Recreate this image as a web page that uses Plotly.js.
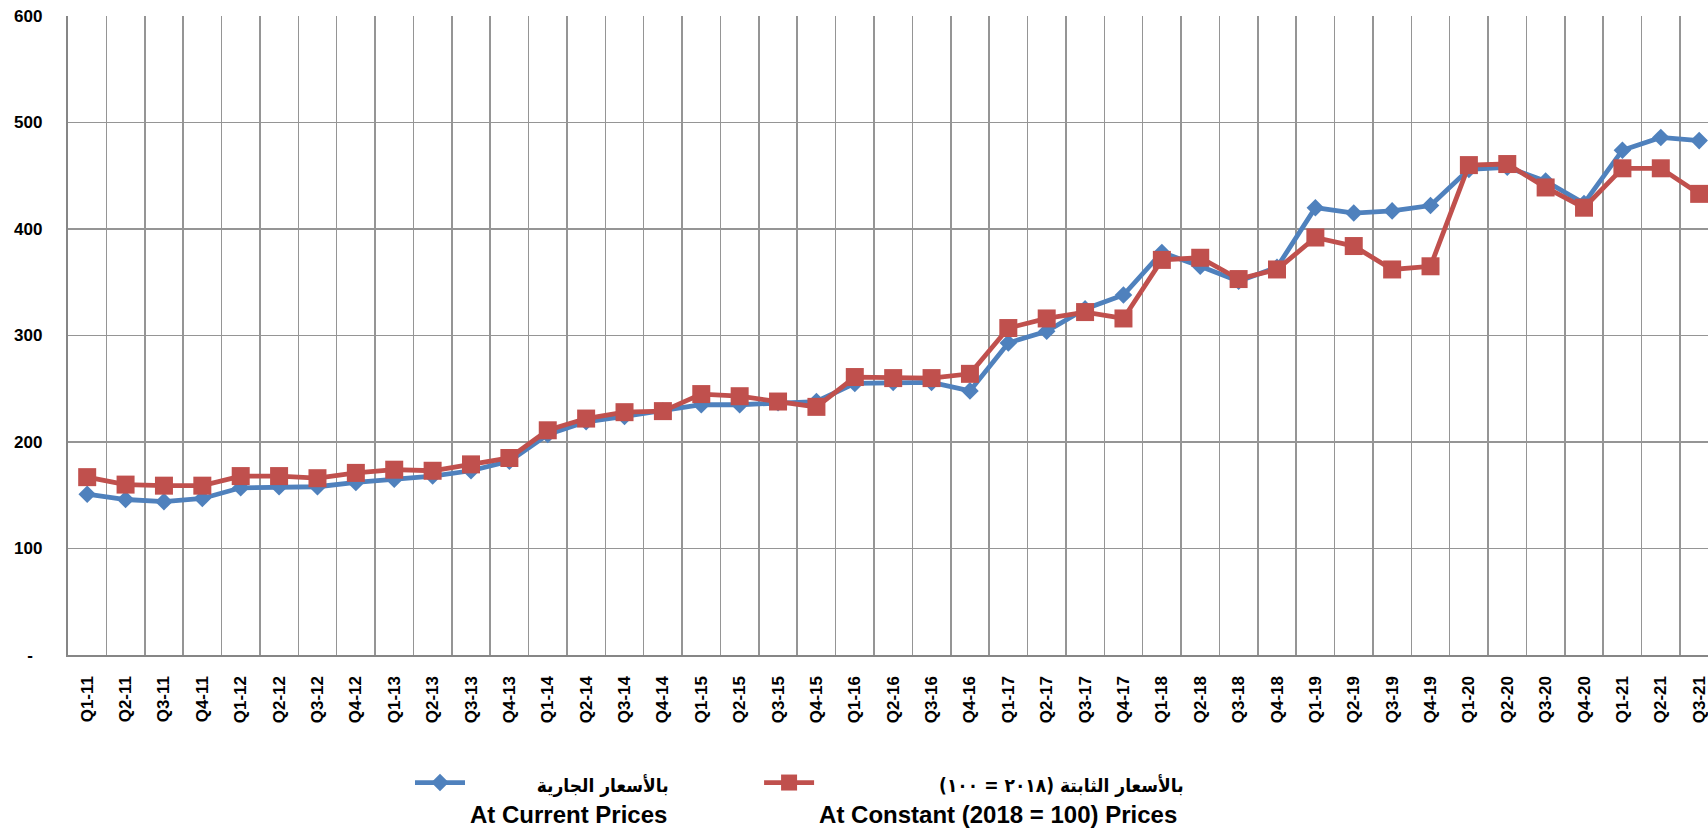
<!DOCTYPE html>
<html>
<head>
<meta charset="utf-8">
<script src="https://cdn.plot.ly/plotly-3.0.1.min.js"></script>
<style>html,body{margin:0;padding:0;background:#fff;}#chart{width:1708px;height:830px;}</style>
</head>
<body>
<div id="chart"></div>
<script>
const quarters = ["Q1-11","Q2-11","Q3-11","Q4-11","Q1-12","Q2-12","Q3-12","Q4-12","Q1-13","Q2-13","Q3-13","Q4-13",
  "Q1-14","Q2-14","Q3-14","Q4-14","Q1-15","Q2-15","Q3-15","Q4-15","Q1-16","Q2-16","Q3-16","Q4-16",
  "Q1-17","Q2-17","Q3-17","Q4-17","Q1-18","Q2-18","Q3-18","Q4-18","Q1-19","Q2-19","Q3-19","Q4-19",
  "Q1-20","Q2-20","Q3-20","Q4-20","Q1-21","Q2-21","Q3-21"];

const currentPrices = [151,146,144,147,157,158,158,162,165,168,173,182,
  207,219,224,229,235,235,237,238,255,256,256,248,
  293,304,325,338,378,365,351,364,420,415,417,422,
  456,458,445,424,474,486,483];

const constantPrices = [167,160,159,159,168,168,166,171,174,173,179,185,
  211,222,228,229,245,243,238,233,261,260,260,264,
  307,316,322,316,371,373,353,362,392,384,362,365,
  460,461,439,420,457,457,433];

const yTickValues = [0,100,200,300,400,500,600];
const yTickLabels = ["-&nbsp;&nbsp;","100","200","300","400","500","600"];

const nameCurrentAr = "بالأسعار الجارية";
const nameCurrentEn = "At Current Prices";
const nameConstantAr = "بالأسعار الثابتة (٢٠١٨ = ١٠٠)\u200F";
const nameConstantEn = "At Constant (2018 = 100) Prices";

const pad = n => "&nbsp;".repeat(n);
const FONT = "Liberation Sans, Arial, DejaVu Sans, sans-serif";
const AR = s => '<span style="font-family:\'DejaVu Sans Condensed\', \'DejaVu Sans\';font-size:19px">' + s + '</span>';

const traces = [
  {
    type: "scatter", mode: "lines+markers",
    x: quarters, y: currentPrices,
    name: pad(10) + AR(nameCurrentAr) + "<br>" + nameCurrentEn + pad(13),
    line: {color: "#4F81BD", width: 4.8},
    marker: {symbol: "diamond", size: 13.5, color: "#4F81BD"},
    cliponaxis: false
  },
  {
    type: "scatter", mode: "lines+markers",
    x: quarters, y: constantPrices,
    name: pad(18) + AR(nameConstantAr) + "<br>" + nameConstantEn,
    line: {color: "#C0504D", width: 4.8},
    marker: {symbol: "square", size: 18, color: "#C0504D"},
    cliponaxis: false
  }
];

const layout = {
  width: 1708, height: 830, autosize: false,
  margin: {l: 68, r: 0, t: 16, b: 175, pad: 0, autoexpand: false},
  paper_bgcolor: "#ffffff", plot_bgcolor: "#ffffff",
  font: {family: FONT, color: "#000000"},
  showlegend: true,
  xaxis: {
    type: "category", categoryorder: "array", categoryarray: quarters,
    range: [-0.5, 42.23],
    tickson: "boundaries",
    showgrid: true, gridcolor: "#959595", gridwidth: 1.5,
    showline: true, linecolor: "#868686", linewidth: 2.2,
    ticks: "", tickangle: -90,
    tickfont: {family: FONT, size: 17, weight: "bold", color: "#000"},
    ticklabelstandoff: 12,
    automargin: false,
    fixedrange: true, zeroline: false
  },
  yaxis: {
    range: [0, 600],
    tickmode: "array", tickvals: yTickValues, ticktext: yTickLabels,
    showgrid: true, gridcolor: "#959595", gridwidth: 1.5,
    showline: true, linecolor: "#868686", linewidth: 2.2,
    ticks: "", zeroline: false,
    tickfont: {family: FONT, size: 17, weight: "bold", color: "#000"},
    ticklabelstandoff: 20,
    automargin: false,
    fixedrange: true
  },
  legend: {
    orientation: "h",
    x: (410 - 68) / 1640, xanchor: "left",
    y: -0.165, yanchor: "top",
    font: {family: FONT, size: 24, weight: "bold", color: "#000"},
    valign: "top",
    itemwidth: 50,
    bgcolor: "rgba(0,0,0,0)",
    traceorder: "normal"
  }
};

Plotly.newPlot("chart", traces, layout, {displayModeBar: false, staticPlot: true});
</script>
</body>
</html>
